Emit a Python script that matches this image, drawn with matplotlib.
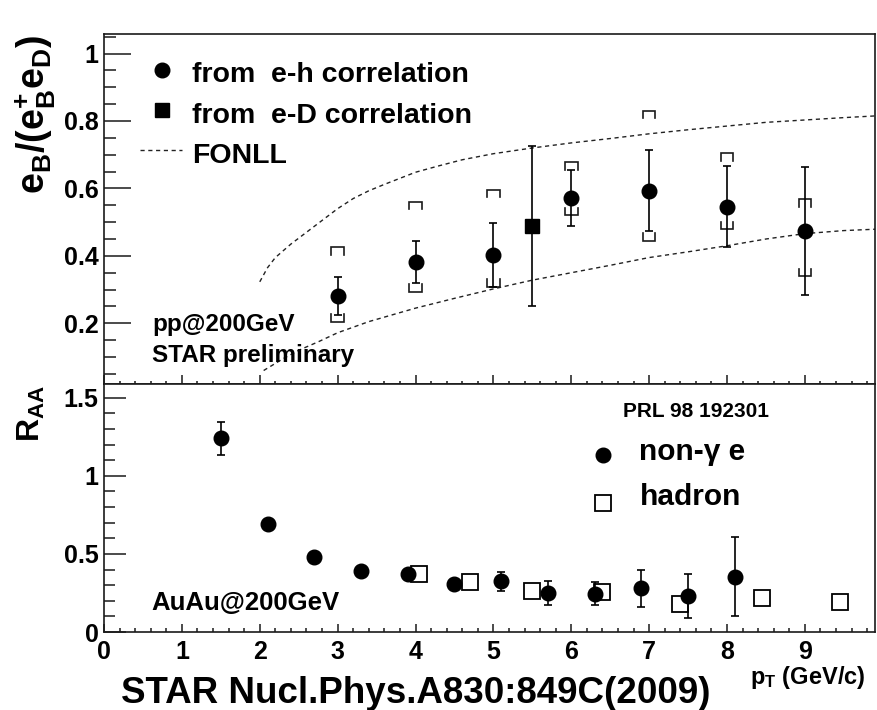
import matplotlib
matplotlib.use("Agg")
import matplotlib.pyplot as plt
from matplotlib.ticker import MultipleLocator, FixedLocator, FixedFormatter

plt.rcParams['font.family'] = ['Liberation Sans', 'DejaVu Sans']
plt.rcParams['font.weight'] = 'bold'
plt.rcParams['mathtext.fontset'] = 'custom'
plt.rcParams['mathtext.rm'] = 'Liberation Sans:bold'
plt.rcParams['mathtext.bf'] = 'Liberation Sans:bold'
plt.rcParams['mathtext.it'] = 'Liberation Sans:bold'

# ---- pp: bottom fraction e_B/(e_B+e_D) ----
eh_pt = [3, 4, 5, 6, 7, 8, 9]
eh_frac = [0.281, 0.382, 0.403, 0.573, 0.593, 0.546, 0.474]
eh_stat = [0.057, 0.063, 0.095, 0.083, 0.12, 0.12, 0.19]
eh_sys_hi = [0.426, 0.561, 0.596, 0.678, 0.831, 0.704, 0.568]
eh_sys_lo = [0.205, 0.294, 0.309, 0.521, 0.445, 0.479, 0.340]

ed_pt = [5.5]
ed_frac = [0.489]
ed_stat = [0.237]

fonll_hi_pt = [2.0, 2.1, 2.2, 2.4, 2.6, 2.8, 3.0, 3.2, 3.4, 3.6, 4.0, 4.3, 4.6,
               5.0, 5.5, 6.0, 6.5, 7.0, 7.5, 8.0, 8.5, 9.0, 9.5, 9.9]
fonll_hi = [0.323, 0.365, 0.395, 0.435, 0.47, 0.505, 0.54, 0.57, 0.593, 0.612,
            0.648, 0.667, 0.685, 0.703, 0.72, 0.735, 0.748, 0.762, 0.774, 0.785,
            0.796, 0.803, 0.81, 0.815]
fonll_lo_pt = [2.05, 2.3, 2.5, 2.75, 3.0, 3.4, 4.0, 4.5, 5.0, 5.5, 6.0, 6.5,
               7.0, 7.5, 8.0, 8.5, 9.0, 9.5, 9.9]
fonll_lo = [0.06, 0.095, 0.12, 0.145, 0.172, 0.205, 0.245, 0.274, 0.302, 0.328,
            0.35, 0.372, 0.395, 0.412, 0.43, 0.45, 0.466, 0.475, 0.479]

# ---- AuAu: nuclear modification factor ----
npe_pt = [1.5, 2.1, 2.7, 3.3, 3.9, 4.5, 5.1, 5.7, 6.3, 6.9, 7.5, 8.1]
npe_raa = [1.24, 0.69, 0.48, 0.39, 0.37, 0.31, 0.325, 0.25, 0.245, 0.28, 0.23, 0.355]
npe_err = [0.105, 0.02, 0.02, 0.02, 0.02, 0.03, 0.06, 0.075, 0.075, 0.12, 0.14, 0.255]

had_pt = [4.05, 4.7, 5.5, 6.4, 7.4, 8.45, 9.45]
had_raa = [0.374, 0.317, 0.263, 0.253, 0.18, 0.215, 0.19]

top_yticks = [0.2, 0.4, 0.6, 0.8, 1.0]
top_ylabels = ['0.2', '0.4', '0.6', '0.8', '1']
bot_yticks = [0, 0.5, 1.0, 1.5]
bot_ylabels = ['0', '0.5', '1', '1.5']
xticks = list(range(10))
xlabels = [str(v) for v in xticks]

W, H = 877, 710
fig = plt.figure(figsize=(W / 100, H / 100), dpi=100)

def px_box(x0, y0, x1, y1):
    return [x0 / W, 1 - y1 / H, (x1 - x0) / W, (y1 - y0) / H]

ax1 = fig.add_axes(px_box(104, 34, 875, 384))
ax2 = fig.add_axes(px_box(104, 384, 875, 632))

for ax in (ax1, ax2):
    ax.set_xlim(0, 9.9)
    for s in ax.spines.values():
        s.set_linewidth(1.2)
        s.set_color('#1a1a1a')
    ax.xaxis.set_major_locator(FixedLocator(xticks))
    ax.xaxis.set_minor_locator(MultipleLocator(0.2))
    ax.tick_params(which='both', direction='in', top=False, right=False,
                   width=1.1, color='#1a1a1a', labelsize=18)

ax1.set_ylim(0.02, 1.058)
ax2.set_ylim(0, 1.588)

ax1.yaxis.set_major_locator(FixedLocator(top_yticks))
ax1.yaxis.set_major_formatter(FixedFormatter(top_ylabels))
ax1.yaxis.set_minor_locator(MultipleLocator(0.05))
ax1.tick_params(axis='y', which='major', length=19.5, pad=4)
ax1.tick_params(axis='y', which='minor', length=8.5)
ax1.tick_params(axis='x', which='major', length=6.5, labelbottom=False)
ax1.tick_params(axis='x', which='minor', length=2.5)

ax2.yaxis.set_major_locator(FixedLocator(bot_yticks))
ax2.yaxis.set_major_formatter(FixedFormatter(bot_ylabels))
ax2.yaxis.set_minor_locator(MultipleLocator(0.1))
ax2.xaxis.set_major_formatter(FixedFormatter(xlabels))
ax2.tick_params(axis='y', which='major', length=16, pad=4)
ax2.tick_params(axis='y', which='minor', length=8)
ax2.tick_params(axis='x', which='major', length=6, pad=6)
ax2.tick_params(axis='x', which='minor', length=3)

dash = (0, (3.0, 2.6))

# FONLL band edges
ax1.plot(fonll_hi_pt, fonll_hi, color='#222222', lw=1.0, linestyle=dash)
ax1.plot(fonll_lo_pt, fonll_lo, color='#222222', lw=1.0, linestyle=dash)

# systematic brackets
bw, bp = 0.08, 0.022
for x, hi, lo in zip(eh_pt, eh_sys_hi, eh_sys_lo):
    ax1.plot([x - bw, x - bw, x + bw, x + bw], [hi - bp, hi, hi, hi - bp],
             color='#1a1a1a', lw=1.2, solid_joinstyle='miter')
    ax1.plot([x - bw, x - bw, x + bw, x + bw], [lo + bp, lo, lo, lo + bp],
             color='#1a1a1a', lw=1.2, solid_joinstyle='miter')

ax1.errorbar(eh_pt, eh_frac, yerr=eh_stat, fmt='o', color='black', ms=10.5,
             elinewidth=1.2, capsize=3, capthick=1.2)
ax1.errorbar(ed_pt, ed_frac, yerr=ed_stat, fmt='s', color='black', ms=10.5,
             elinewidth=1.2, capsize=3, capthick=1.2)

# bottom panel
ax2.plot(had_pt, had_raa, 's', ms=11, mfc='none', mec='black', mew=1.3)
ax2.errorbar(npe_pt, npe_raa, yerr=npe_err, fmt='o', color='black', ms=10.5,
             elinewidth=1.2, capsize=3, capthick=1.2)

# legends / annotations, placed in pixel units
def ftext(x, y, s, size, **kw):
    fig.text(x / W, 1 - y / H, s, fontsize=size, fontweight='bold', **kw)

def fmark(x, y, **kw):
    fig.add_artist(plt.Line2D([x / W], [1 - y / H], **kw))

fmark(162, 70, marker='o', ms=10.5, color='black', linestyle='none')
ftext(192, 82, 'from  e-h correlation', 20.5, va='baseline')
fmark(162, 110, marker='s', ms=10.5, color='black', linestyle='none')
ftext(192, 123, 'from  e-D correlation', 20.5, va='baseline')
fig.add_artist(plt.Line2D([140 / W, 182 / W], [1 - 150 / H, 1 - 150 / H],
                          color='#222222', lw=1.0, linestyle=dash))
ftext(192, 163, 'FONLL', 20.5, va='baseline')

ftext(152, 331, 'pp@200GeV', 17.5, va='baseline')
ftext(152, 362, 'STAR preliminary', 17.5, va='baseline')
ftext(151, 610, 'AuAu@200GeV', 18.5, va='baseline')

ftext(623, 417, 'PRL 98 192301', 15, va='baseline')
fmark(603, 455, marker='o', ms=10.5, color='black', linestyle='none')
ftext(639, 460, 'non-γ e', 21.5, va='baseline')
fmark(603, 503, marker='s', ms=11, mfc='none', mec='black', mew=1.3, linestyle='none')
ftext(640, 505, 'hadron', 21.5, va='baseline')

ftext(416, 703, 'STAR Nucl.Phys.A830:849C(2009)', 26.5, ha='center', va='baseline')
ftext(750, 684, r'p$_\mathbf{T}$ (GeV/c)', 17, va='baseline')

ftext(35, 35, r'$\mathbf{e_B/(e_B^{+}e_D)}$', 27, rotation=90, ha='center', va='top')
ftext(31, 385, r'$\mathbf{R_{AA}}$', 23, rotation=90, ha='center', va='top')

fig.savefig('out.png', dpi=100)
